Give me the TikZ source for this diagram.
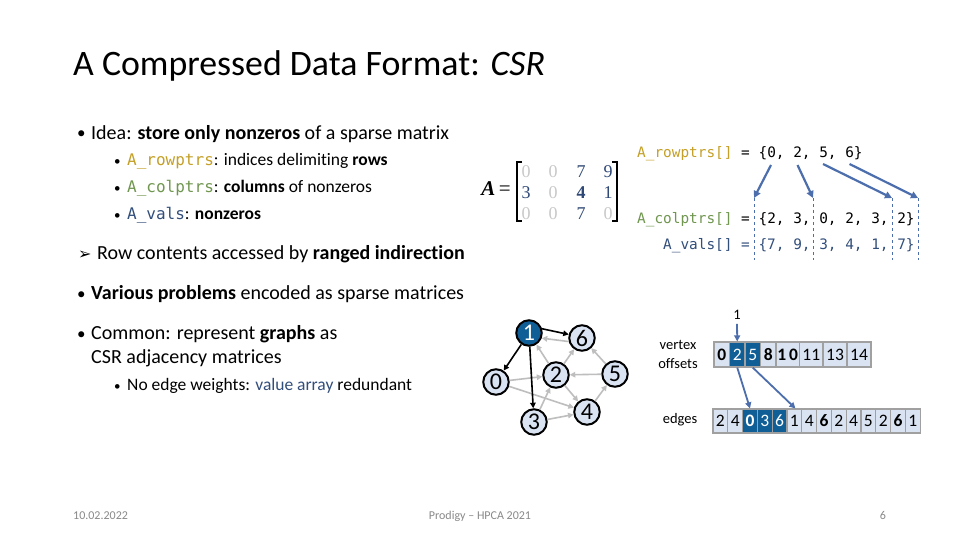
\documentclass[tikz,border=0pt]{standalone}
\usepackage{fontspec}
\setmainfont{Carlito}[Ligatures={NoCommon}]
\setmonofont{DejaVu Sans Mono}
\newfontfamily\dejavu{DejaVu Sans}
\newfontfamily\serifm{Liberation Serif}
\usetikzlibrary{arrows.meta,calc}
\definecolor{mustard}{RGB}{196,160,40}
\definecolor{colgreen}{RGB}{112,150,80}
\definecolor{slate}{RGB}{50,78,122}
\definecolor{arrblue}{RGB}{76,110,172}
\definecolor{nzblue}{RGB}{47,72,118}
\definecolor{zgray}{RGB}{200,200,200}
\definecolor{celllight}{RGB}{218,227,242}
\definecolor{celldark}{RGB}{16,94,150}
\definecolor{cellline}{RGB}{160,160,160}
\definecolor{edgegray}{RGB}{190,190,190}
\definecolor{footgray}{RGB}{137,137,137}
\begin{document}
\begin{tikzpicture}[x=1pt,y=-1pt,
  txt/.style={anchor=base west,inner sep=0pt},
  big/.style={font=\fontsize{20}{24}\selectfont},
  mid/.style={font=\fontsize{17.5}{20}\selectfont},
  mono/.style={anchor=base west,inner sep=0pt,font=\ttfamily\fontsize{14.4}{17}\selectfont},
  bul/.style={anchor=base west,inner sep=0pt,font=\fontsize{17}{17}\selectfont},
  sbul/.style={anchor=base west,inner sep=0pt,font=\fontsize{13}{14}\selectfont},
  ent/.style={anchor=base,inner sep=0pt,font=\serifm\fontsize{18}{20}\selectfont},
  zero/.style={ent,text=zgray},
  nz/.style={ent,text=nzblue},
  gnode/.style={circle,draw=black,line width=2pt,fill=celllight,minimum size=25.5pt,inner sep=0pt,font=\fontsize{24}{24}\selectfont},
  gedge/.style={draw=edgegray,line width=1.6pt,-{Triangle[length=5.5pt,width=5.5pt]}},
  bedge/.style={draw=black,line width=1.6pt,-{Triangle[length=5.5pt,width=5.5pt]}},
  blarrow/.style={draw=arrblue,line width=2.2pt,-{Triangle[length=7pt,width=7pt]}},
  dline/.style={draw=arrblue,dashed,line width=0.8pt},
  cell/.style={rectangle,draw=cellline,line width=1.2pt,fill=celllight,inner sep=0pt,font=\fontsize{17.5}{17.5}\selectfont},
  dcell/.style={cell,fill=celldark,text=white},
  foot/.style={inner sep=0pt,text=footgray,font=\fontsize{12}{14}\selectfont}
]
\useasboundingbox (0,0) rectangle (960,540);
\fill[white] (0,0) rectangle (960,540);

% title
\node[txt,font=\fontsize{35.8}{40}\selectfont] (title) at (73,76) {A Compressed Data Format: \textit{CSR}};

% bullets
\node[bul] (bu1) at (77,139) {•};
\node[txt,big] (t1) at (91,139.5) {Idea: \textbf{store only nonzeros} of a sparse matrix};
\node[sbul] (bu2) at (114,166) {•};
\node[txt,mid] (t2) at (127,166) {{\ttfamily\fontsize{16}{17}\selectfont\color{mustard}A\_rowptrs}: indices delimiting \textbf{rows}};
\node[sbul] (bu3) at (114,193) {•};
\node[txt,mid] (t3) at (127,193) {{\ttfamily\fontsize{16}{17}\selectfont\color{colgreen}A\_colptrs}: \textbf{columns} of nonzeros};
\node[sbul] (bu4) at (114,219) {•};
\node[txt,mid] (t4) at (127,219) {{\ttfamily\fontsize{16}{17}\selectfont\color{slate}A\_vals}: \textbf{nonzeros}};
\node[bul,font=\dejavu\fontsize{16}{17}\selectfont] (bu5) at (78,259) {➢};
\node[txt,big] (t5) at (97,259) {Row contents accessed by \textbf{ranged indirection}};
\node[bul] (bu6) at (77,299) {•};
\node[txt,big] (t6) at (91,299) {\textbf{Various problems} encoded as sparse matrices};
\node[bul] (bu7) at (77,339) {•};
\node[txt,big] (t7) at (91,339) {Common: represent \textbf{graphs} as};
\node[txt,big] (t8) at (91,363) {CSR adjacency matrices};
\node[sbul] (bu9) at (114,390) {•};
\node[txt,mid] (t9) at (127,390) {No edge weights: {\color{slate}value array} redundant};

% matrix
\node[anchor=base east,inner sep=0pt,font=\serifm\fontsize{21}{22}\selectfont] (Aeq) at (511,196) {\textbf{\textit{A}}\,=};
\draw[line width=1.6pt] (522,162) -- (517,162) -- (517,221) -- (522,221);
\draw[line width=1.6pt] (612,162) -- (617,162) -- (617,221) -- (612,221);
\node[zero] (m00) at (526,178) {0};
\node[zero] (m01) at (553,178) {0};
\node[nz]   (m02) at (581,178) {7};
\node[nz]   (m03) at (608,178) {9};
\node[nz]   (m10) at (526,198) {3};
\node[zero] (m11) at (553,198) {0};
\node[nz,font=\serifm\bfseries\fontsize{18}{20}\selectfont] (m12) at (581,198) {4};
\node[nz]   (m13) at (608,198) {1};
\node[zero] (m20) at (526,219) {0};
\node[zero] (m21) at (553,219) {0};
\node[nz]   (m22) at (581,219) {7};
\node[zero] (m23) at (608,219) {0};

% CSR arrays (code)
\node[mono] (rowp) at (637,158) {{\color{mustard}A\_rowptrs[]} = \{0, 2, 5, 6\}};
\node[mono] (colp) at (637,223) {{\color{colgreen}A\_colptrs[]} = \{2, 3, 0, 2, 3, 2\}};
\node[mono,text=slate] (vals) at (637,249) {\ \ \ A\_vals[] = \{7, 9, 3, 4, 1, 7\}};
\coordinate (r0) at (771,165);
\coordinate (r1) at (797.5,165);
\coordinate (r2) at (823,164);
\coordinate (r3) at (849.5,164);
\coordinate (d0) at (754,198);
\coordinate (d1) at (813,198);
\coordinate (d2) at (892,198);
\coordinate (d3) at (918,198);
\coordinate (d0b) at (754,260);
\coordinate (d1b) at (813,260);
\coordinate (d2b) at (892,260);
\coordinate (d3b) at (918,260);
\draw[dline] (d0) -- (d0b);
\draw[dline] (d1) -- (d1b);
\draw[dline] (d2) -- (d2b);
\draw[dline] (d3) -- (d3b);
\draw[blarrow] (r0) -- (d0);
\draw[blarrow] (r1) -- (d1);
\draw[blarrow] (r2) -- (d2);
\draw[blarrow] (r3) -- (d3);

% graph
\node[gnode,fill=celldark,text=white] (g1) at (529,333) {1};
\node[gnode] (g6) at (582,338) {6};
\node[gnode] (g0) at (496,382) {0};
\node[gnode] (g2) at (556,375) {2};
\node[gnode] (g5) at (615,374) {5};
\node[gnode] (g3) at (534,422) {3};
\node[gnode] (g4) at (587,412) {4};
\draw[gedge] (g0) -- (g2);
\draw[gedge] (g0) -- (g4);
\draw[gedge] (g2) -- (g1);
\draw[gedge] (g2) -- (g4);
\draw[gedge] (g2) -- (g6);
\draw[gedge] (g3) -- (g2);
\draw[gedge] (g3) -- (g4);
\draw[gedge] (g4) -- (g5);
\draw[gedge] (g5) -- (g2);
\draw[gedge] (g5) -- (g6);
\draw[gedge] (g6.195) -- (g1.338);
\draw[bedge] (g1.18) -- (g6.165);
\draw[bedge] (g1) -- (g0);
\draw[bedge] (g1) -- (g3);

% vertex offsets / edges arrays
\node[inner sep=0pt,align=center,font=\fontsize{14.5}{19}\selectfont] (vlab) at (678,354.5) {vertex\\offsets};
\node[inner sep=0pt,font=\fontsize{14.5}{16}\selectfont] (elab) at (680,420) {edges};
\foreach \i/\x/\w/\t/\s in {0/721.75/15.5/\textbf{0}/cell,1/737.25/15.5/2/dcell,2/752.75/15.5/5/dcell,3/768.25/15.5/\textbf{8}/cell,4/787.75/23.5/\textbf{1\,0}/cell,5/811.25/23.5/11/cell,6/835/24/13/cell,7/859/24/14/cell}
  \node[\s,minimum width=\w pt,minimum height=25pt] (v\i) at (\x,354.5) {\t};
\foreach \i/\t/\s in {0/2/cell,1/4/cell,2/\textbf{0}/dcell,3/3/dcell,4/6/dcell,5/1/cell,6/4/cell,7/\textbf{6}/cell,8/2/cell,9/4/cell,10/5/cell,11/2/cell,12/\textbf{6}/cell,13/1/cell}
  \node[\s,minimum width=14.8pt,minimum height=24pt] (e\i) at ({720.4+\i*14.8},421) {\t};
\node[inner sep=0pt,font=\fontsize{14.5}{16}\selectfont] (one) at (737,315) {1};
\draw[draw=arrblue,line width=1.8pt,-{Triangle[length=6pt,width=6pt]}] (one.south) ++(0,4) -- (v1.north);
\draw[draw=arrblue,line width=1.8pt,-{Triangle[length=6pt,width=6pt]}] (v1.south) -- (e2.north);
\draw[draw=arrblue,line width=1.8pt,-{Triangle[length=6pt,width=6pt]}] (v2.south) -- ($(e5.north)+(1,0)$);

% footer
\node[foot,anchor=base west] (f1) at (73,519) {10.02.2022};
\node[foot,anchor=base] (f2) at (480,519) {Prodigy – HPCA 2021};
\node[foot,anchor=base] (f3) at (883,519) {6};
\end{tikzpicture}
\end{document}
